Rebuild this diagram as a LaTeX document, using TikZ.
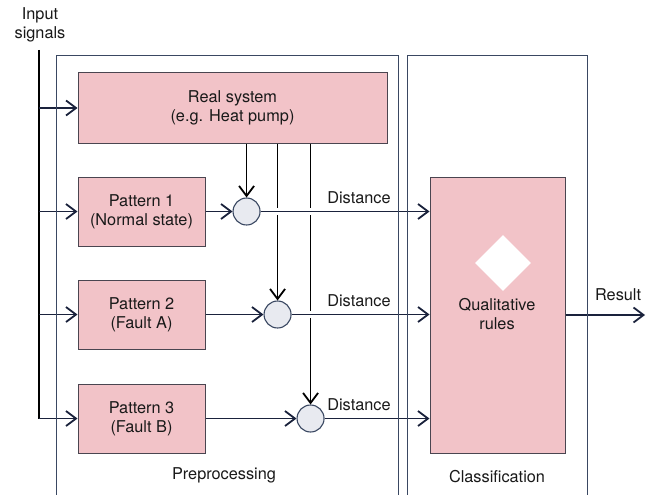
\documentclass[tikz,border=0pt]{standalone}
\usepackage{fontspec}
\setmainfont{TeX Gyre Heros}
\usepackage{xcolor}
\usetikzlibrary{arrows.meta, positioning, shapes.geometric}
\definecolor{pinkfill}{HTML}{F2C3C8}
\definecolor{boxline}{HTML}{4A4550}
\definecolor{wirenavy}{HTML}{1A223C}
\definecolor{panelline}{HTML}{3A4862}
\definecolor{sumfill}{HTML}{E8EAF0}
\tikzstyle{tagtext} = [font=\fontsize{16.3}{19}\selectfont, text=black!90, align=center, inner sep=2pt]
\tikzstyle{blockbox} = [rectangle, draw=boxline, fill=pinkfill, line width=1pt, tagtext]
\tikzstyle{patbox} = [blockbox, minimum width=127pt, minimum height=69pt]
\tikzstyle{sumnode} = [circle, draw=panelline, fill=sumfill, line width=1.1pt, minimum size=27pt, inner sep=0pt]
\tikzstyle{wire} = [line width=1.8pt, draw=wirenavy]
\tikzstyle{arrow} = [wire, -{Straight Barb[length=10pt,width=15pt]}]
\tikzstyle{bridge} = [preaction={draw=white, line width=7pt, -}]
\tikzstyle{panel} = [line width=0.9pt, draw=panelline]

\begin{document}
\begin{tikzpicture}[x=1pt, y=-1pt]
  \useasboundingbox (0,0) rectangle (656,495);

  % blocks
  \node (insig) [tagtext] at (40,25) {Input\\signals};
  \node (real) [blockbox, minimum width=309pt, minimum height=70pt] at (232.5,108) {Real system\\(e.g. Heat pump)};
  \node (pat1) [patbox] at (141.5,211.5) {Pattern 1\\(Normal state)};
  \node (pat2) [patbox, below=33pt of pat1] {Pattern 2\\(Fault A)};
  \node (pat3) [patbox, below=34pt of pat2] {Pattern 3\\(Fault B)};
  \node (sum1) [sumnode, right=27pt of pat1] {};
  \node (sum2) [sumnode, right=58pt of pat2] {};
  \node (sum3) [sumnode, right=91pt of pat3] {};
  \node (rules) [blockbox, minimum width=135pt, minimum height=276pt] at (497.5,315) {};
  \node (gem) [diamond, fill=white, minimum size=56pt, inner sep=0pt] at (503,263) {};
  \node (rulestxt) [tagtext] at (497,314) {Qualitative\\rules};

  % input bus
  \coordinate (bus) at (39,50);
  \coordinate (out) at (645,315);
  \draw[wire, draw=black] (bus) -- (bus |- pat3);
  \draw[arrow] (bus |- real) -- (real);
  \draw[arrow] (bus |- pat1) -- (pat1);
  \draw[arrow] (bus |- pat2) -- (pat2);
  \draw[arrow] (bus |- pat3) -- (pat3);

  % measured signal down to the comparators
  \draw[arrow, draw=black] (real.south -| sum1) -- (sum1.north);
  \draw[arrow, draw=black] (real.south -| sum2) -- (sum2.north);
  \draw[arrow, draw=black] (real.south -| sum3) -- (sum3.north);
  \draw[arrow] (pat1) -- (sum1);
  \draw[arrow] (pat2) -- (sum2);
  \draw[arrow] (pat3) -- (sum3);

  % distances into the rule block
  \draw[arrow, bridge] (sum1) -- (sum1 -| rules.west)
    node[tagtext, pos=1, anchor=south east, xshift=-36pt, yshift=5pt] {Distance};
  \draw[arrow, bridge] (sum2) -- (sum2 -| rules.west)
    node[tagtext, pos=1, anchor=south east, xshift=-36pt, yshift=5pt] {Distance};
  \draw[arrow, bridge] (sum3) -- (sum3 -| rules.west)
    node[tagtext, pos=1, anchor=south east, xshift=-36pt, yshift=5pt] {Distance};
  \draw[arrow] (rules.east |- out) -- (out)
    node[tagtext, pos=1, anchor=south east, xshift=-1pt, yshift=11pt] {Result};

  % panels
  \draw[panel] (56,500) |- (398,55) -- (398,500);
  \draw[panel] (407,500) |- (587,55) -- (587,500);
  \node (prep) [tagtext] at (224,475) {Preprocessing};
  \node (clas) [tagtext] at (497,477) {Classification};
\end{tikzpicture}
\end{document}
